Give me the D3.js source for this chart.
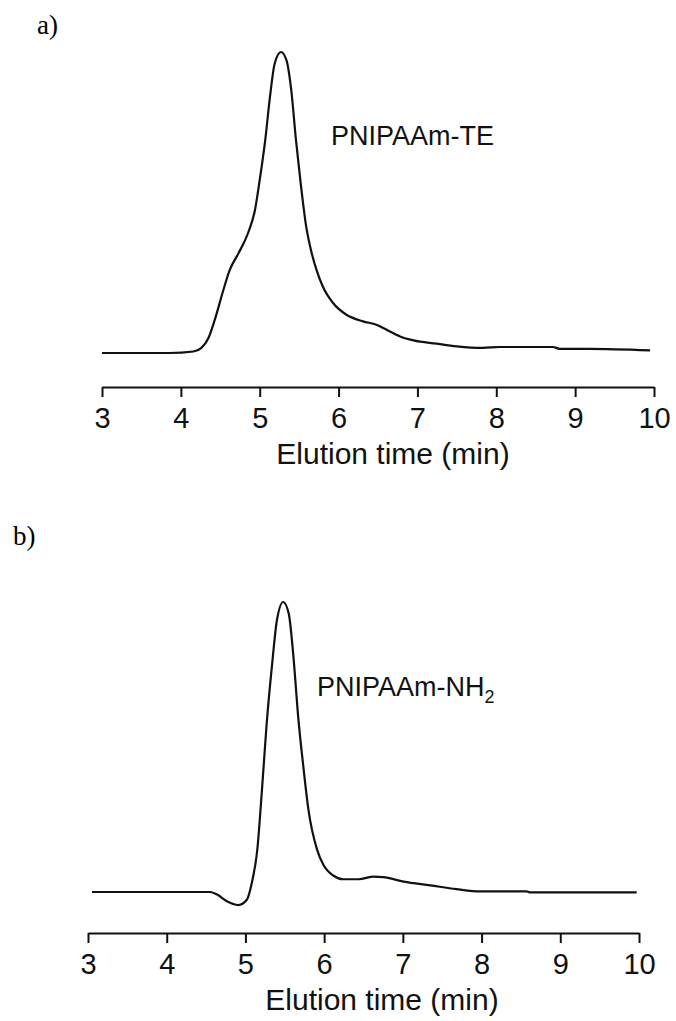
<!DOCTYPE html>
<html>
<head>
<meta charset="utf-8">
<script src="https://cdn.jsdelivr.net/npm/d3@7"></script>
<style>
body { margin: 0; background: #fff; }
.axis path, .axis line { stroke: #111; stroke-width: 2px; }
.axis text { font-family: "Liberation Sans", Arial, sans-serif; font-size: 29px; fill: #111; }
</style>
</head>
<body>
<div id="chart"></div>
<script>
//Elution times (min) and detector signal, peak = 100
var timesA = [3.00, 3.86, 4.16, 4.26, 4.35, 4.43, 4.54, 4.62, 4.73, 4.85, 4.94, 5.00, 5.07, 5.13, 5.19, 5.27, 5.34, 5.40, 5.46, 5.52, 5.59, 5.64, 5.72, 5.80, 5.93, 6.10, 6.31, 6.48, 6.61, 6.78, 6.95, 7.24, 7.50, 7.83, 8.04, 8.72, 8.80, 9.18, 9.95];
var signalA = [0, 0, 0.5, 1.7, 5.0, 11.0, 21.0, 27.6, 33.1, 39.7, 47.5, 57.5, 70.7, 85.1, 96.2, 100, 97.2, 87.3, 70.7, 56.3, 41.9, 35.3, 27.6, 22.1, 16.6, 12.7, 10.5, 9.4, 7.7, 5.5, 4.2, 3.1, 2.2, 1.7, 2.0, 2.0, 1.4, 1.4, 0.9];

var timesB = [3.05, 4.17, 4.55, 4.64, 4.77, 4.91, 5.02, 5.08, 5.15, 5.21, 5.27, 5.34, 5.40, 5.48, 5.55, 5.61, 5.67, 5.74, 5.80, 5.91, 5.99, 6.12, 6.24, 6.44, 6.63, 6.75, 7.01, 7.35, 7.68, 7.98, 8.57, 8.61, 9.25, 9.97];
var signalB = [0, 0, 0, -0.9, -3.3, -4.5, -2.6, 3.0, 14.4, 35.2, 58.1, 78.8, 93.7, 100, 96.0, 81.1, 60.5, 42.2, 28.5, 14.6, 9.4, 5.6, 4.4, 4.4, 5.3, 5.1, 3.6, 2.3, 1.0, 0.2, 0.2, -0.1, -0.1, -0.1];

var tickValues = [3, 4, 5, 6, 7, 8, 9, 10];
var axisTitle = "Elution time (min)";

//Width and height
var w = 676;
var h = 1021;

var svg = d3.select("#chart")
.append("svg")
.attr("width", w)
.attr("height", h);

//One panel: trace, axis, label
function drawPanel(opt) {
	var data = opt.times.map(function(t, i) { return { t: t, v: opt.signal[i] }; });

	var xScale = d3.scaleLinear()
	.domain([3, 10])
	.range([opt.x0, opt.x1]);

	var yScale = d3.scaleLinear()
	.domain([0, 100])
	.range([opt.yBase, opt.yPeak]);

	var line = d3.line()
	.x(function(d) { return xScale(d.t); })
	.y(function(d) { return yScale(d.v); })
	.curve(d3.curveMonotoneX);

	svg.append("path")
	.datum(data)
	.attr("fill", "none")
	.attr("stroke", "#111")
	.attr("stroke-width", 2.2)
	.attr("stroke-linejoin", "round")
	.attr("d", line);

	var xAxis = d3.axisBottom(xScale)
	.tickValues(tickValues)
	.tickFormat(d3.format("d"))
	.tickSizeInner(10)
	.tickSizeOuter(0)
	.tickPadding(10);

	svg.append("g")
	.attr("class", "axis")
	.attr("transform", "translate(0," + opt.axisY + ")")
	.call(xAxis);

	//Axis title
	svg.append("text")
	.attr("x", opt.titleX)
	.attr("y", opt.axisY + 77)
	.attr("font-family", "Liberation Sans, Arial, sans-serif")
	.attr("font-size", "30px")
	.attr("fill", "#111")
	.style("text-anchor", "middle")
	.text(axisTitle);

	//Sample name
	var lbl = svg.append("text")
	.attr("x", opt.labelX)
	.attr("y", opt.labelY)
	.attr("font-family", "Liberation Sans, Arial, sans-serif")
	.attr("font-size", "27px")
	.attr("fill", "#111");
	lbl.append("tspan").text(opt.label);
	if (opt.sub) {
		lbl.append("tspan")
		.attr("font-size", "18px")
		.attr("dy", "7")
		.text(opt.sub);
	}

	//Panel letter
	svg.append("text")
	.attr("x", opt.letterX)
	.attr("y", opt.letterY)
	.attr("font-family", "Liberation Serif, Times New Roman, serif")
	.attr("font-size", "27px")
	.attr("fill", "#000")
	.text(opt.letter);
}

drawPanel({
	times: timesA, signal: signalA,
	x0: 102, x1: 654, yBase: 353, yPeak: 52, axisY: 387,
	titleX: 393, label: "PNIPAAm-TE", labelX: 331, labelY: 145,
	letter: "a)", letterX: 37, letterY: 34
});

drawPanel({
	times: timesB, signal: signalB,
	x0: 88, x1: 639, yBase: 892, yPeak: 602, axisY: 933,
	titleX: 382, label: "PNIPAAm-NH", sub: "2", labelX: 317, labelY: 696,
	letter: "b)", letterX: 13, letterY: 545
});
</script>
</body>
</html>
